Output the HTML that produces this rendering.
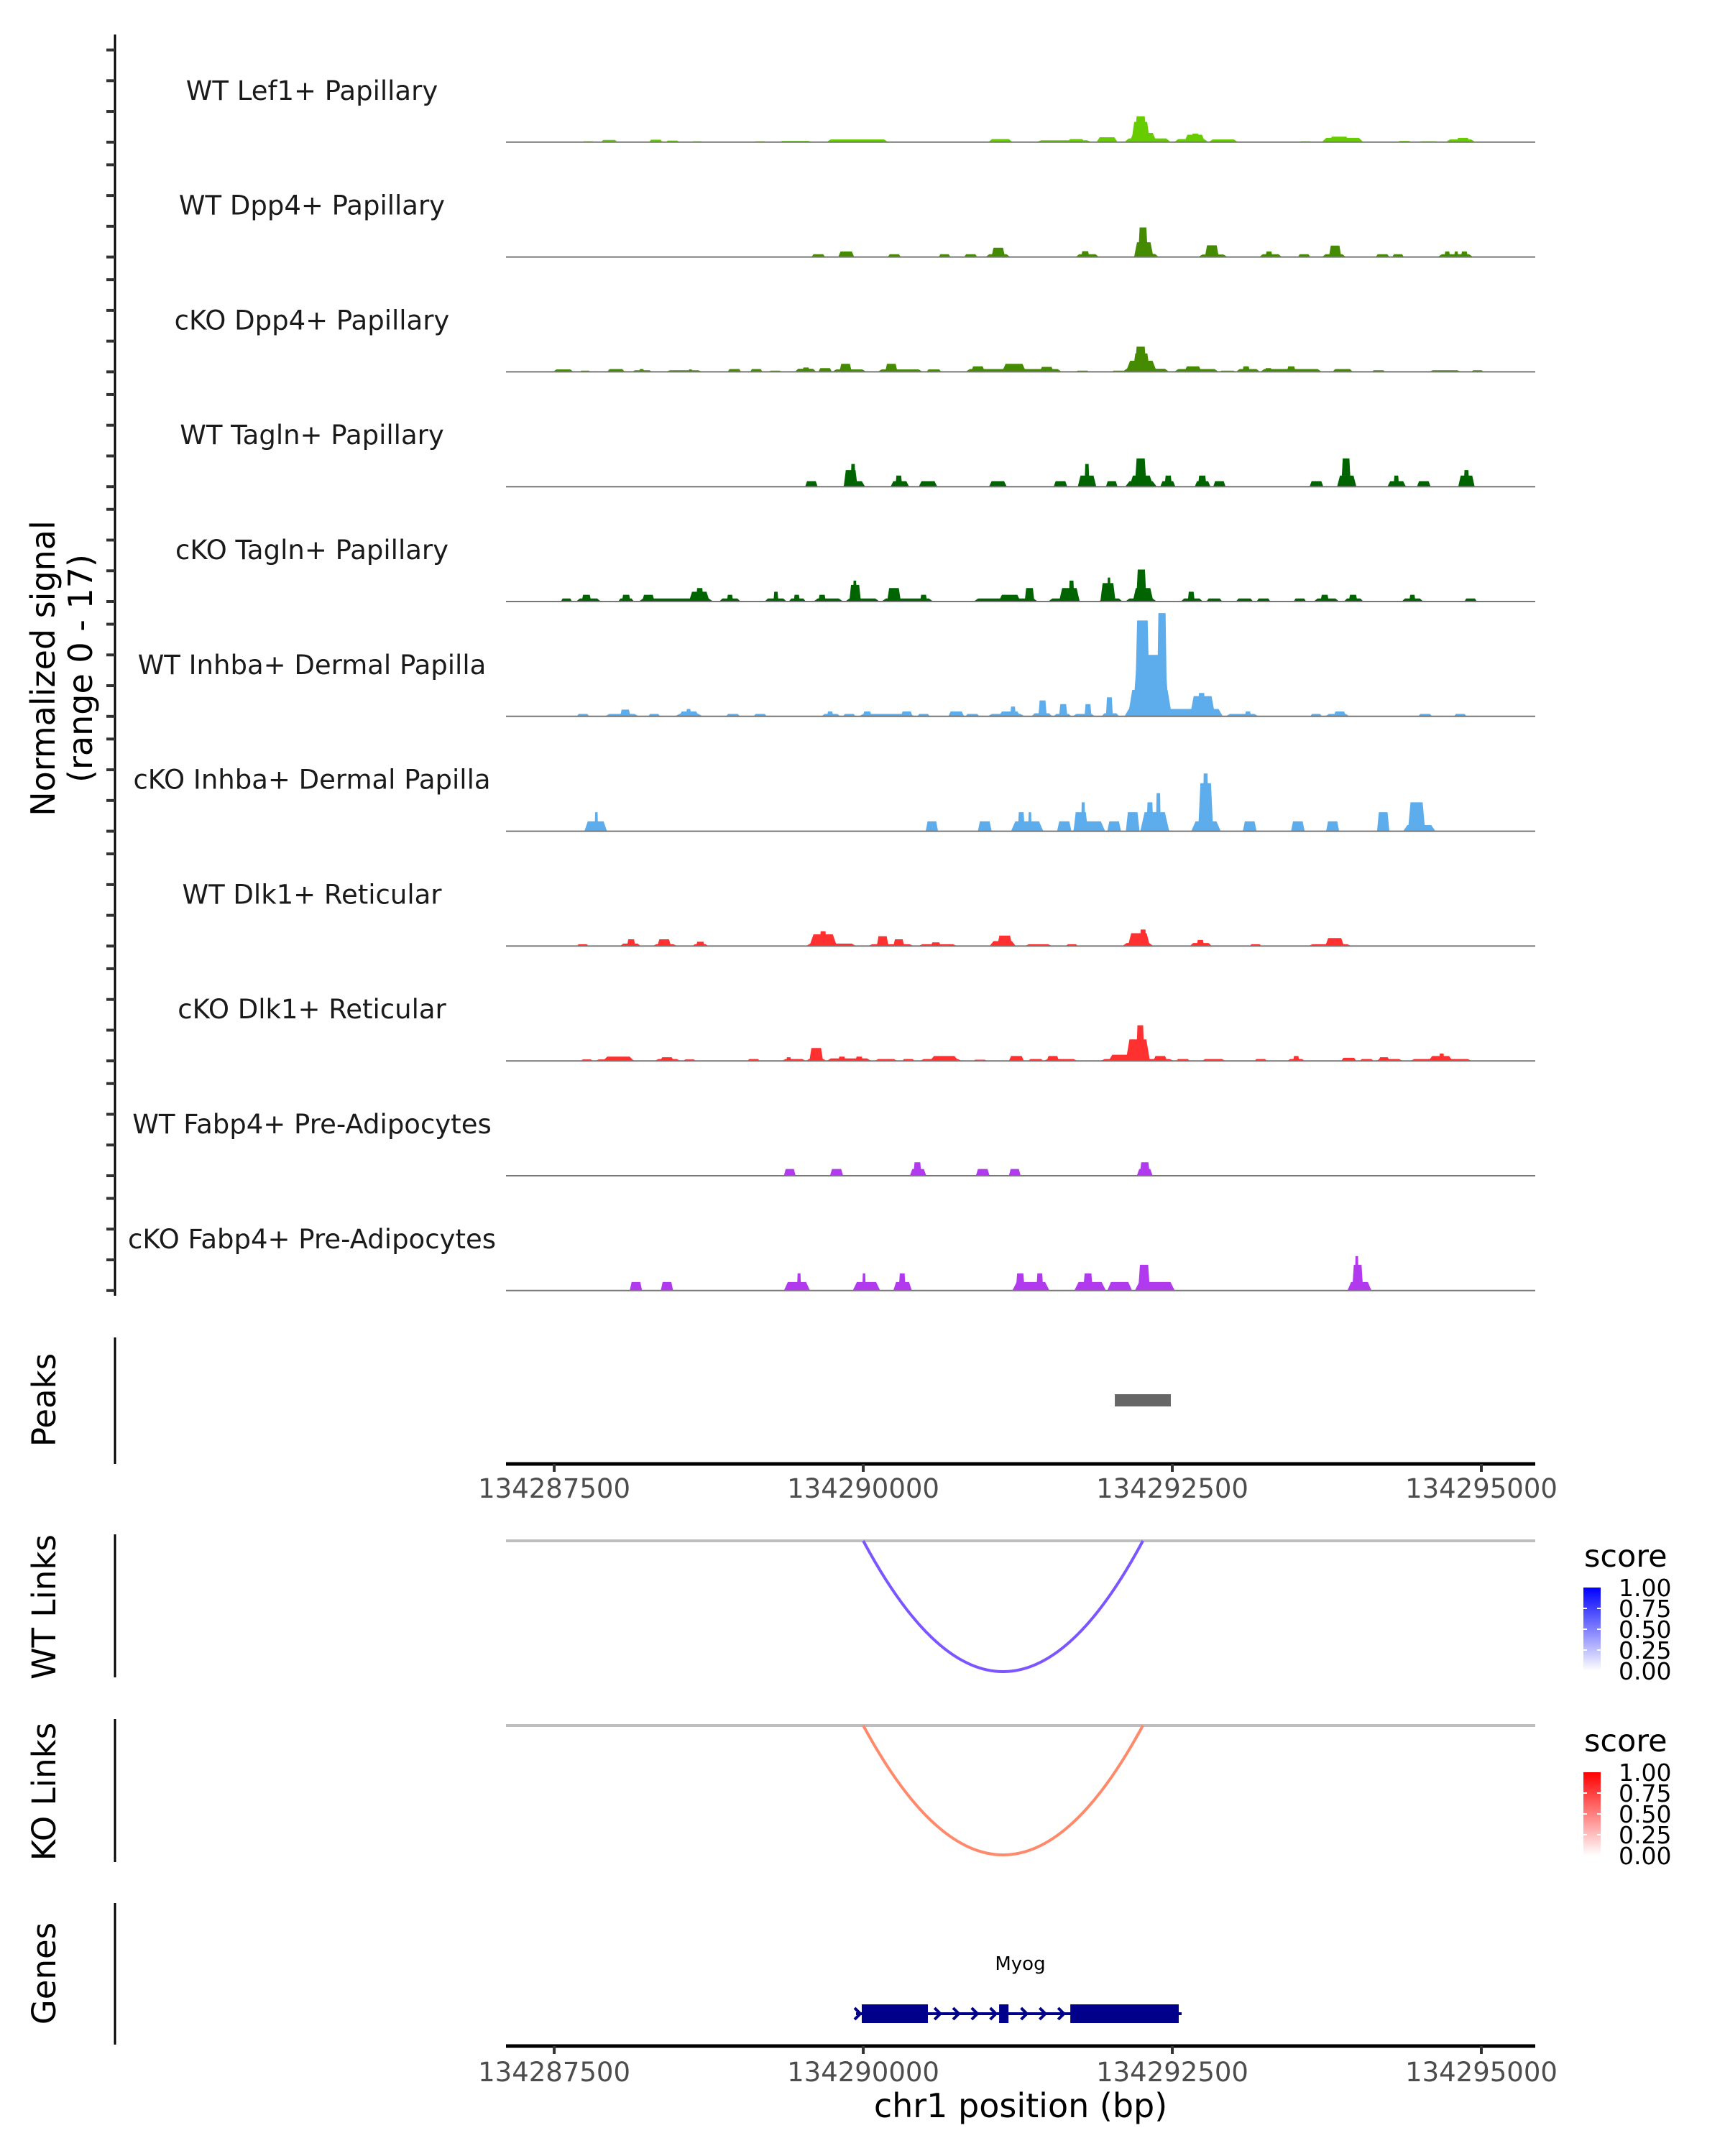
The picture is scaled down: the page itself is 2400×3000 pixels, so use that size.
<!DOCTYPE html>
<html><head><meta charset="utf-8">
<style>
html,body{margin:0;padding:0;background:#fff;}
svg{display:block;font-family:"DejaVu Sans","Liberation Sans",sans-serif;}
</style></head>
<body>
<svg id="chart" width="2400" height="3000" viewBox="0 0 2400 3000" xmlns="http://www.w3.org/2000/svg">
<defs>
<linearGradient id="gradBlue" x1="0" y1="1" x2="0" y2="0"><stop offset="0" stop-color="#ffffff"/><stop offset="1" stop-color="#0000ff"/></linearGradient>
<linearGradient id="gradRed" x1="0" y1="1" x2="0" y2="0"><stop offset="0" stop-color="#ffffff"/><stop offset="1" stop-color="#ff0000"/></linearGradient>
</defs>
<g id="tracks"></g>
<g id="lower"></g>
</svg>
<script>
// ---- data ----
const regionStart = 134287047; // bump offsets are bp relative to this
const trackNames = ["WT Lef1+ Papillary","WT Dpp4+ Papillary","cKO Dpp4+ Papillary","WT Tagln+ Papillary","cKO Tagln+ Papillary","WT Inhba+ Dermal Papilla","cKO Inhba+ Dermal Papilla","WT Dlk1+ Reticular","cKO Dlk1+ Reticular","WT Fabp4+ Pre-Adipocytes","cKO Fabp4+ Pre-Adipocytes"];
const trackColors = ["#66CC00","#458B00","#458B00","#006400","#006400","#5DADEC","#5DADEC","#FF3030","#FF3030","#B23AEE","#B23AEE"];
// bumps: [startOffset, endOffset, signal]
const lef1WT = [[680,780,0.15],[830,965,0.35],[1220,1330,0.4],[1355,1465,0.25],[1565,1655,0.15],[2070,2170,0.15],[2265,2545,0.2],[2655,3155,0.45],[3335,3425,0.1],[3965,4160,0.5],[4215,4325,0.1],[4355,4800,0.3],[4605,4745,0.5],[4840,5010,0.8],[5066,5439,0.6],[5105,5328,1.5],[5122,5272,3.3],[5150,5244,4.2],[5467,5745,0.5],[5550,5718,1.2],[5606,5673,1.4],[5745,5985,0.45],[6263,6357,0.1],[6480,6580,0.15],[6663,6998,0.7],[6719,6886,0.9],[7276,7387,0.2],[7443,7610,0.15],[7665,7905,0.45],[7749,7860,0.7]];
const dpp4WT = [[2534,2645,0.45],[2750,2880,0.9],[3151,3257,0.45],[3563,3658,0.45],[3769,3875,0.45],[3942,4142,0.45],[3990,4100,1.5],[4671,4860,0.45],[4715,4782,0.95],[5138,5344,0.5],[5144,5300,2.4],[5177,5255,4.8],[5662,5901,0.4],[5717,5829,1.9],[6157,6340,0.45],[6207,6263,0.9],[6469,6569,0.45],[6663,6858,0.45],[6720,6820,1.85],[7098,7209,0.45],[7232,7326,0.45],[7599,7888,0.45],[7654,7700,0.9],[7733,7766,0.9],[7788,7843,0.9]];
const dpp4KO = [[446,608,0.4],[658,747,0.2],[880,1025,0.45],[1081,1248,0.25],[1140,1180,0.45],[1354,1654,0.25],[1540,1570,0.4],[1855,1966,0.45],[2038,2138,0.45],[2188,2294,0.2],[2400,2573,0.5],[2460,2520,0.7],[2589,2700,0.6],[2700,2979,0.4],[2760,2860,1.3],[3068,3435,0.4],[3130,3230,1.3],[3463,3586,0.4],[3780,4560,0.45],[3825,3936,0.9],[4075,4270,1.3],[4381,4493,0.8],[4671,4782,0.2],[4960,5077,0.2],[5049,5428,0.5],[5077,5328,1.8],[5133,5272,3.0],[5150,5244,4.1],[5467,5829,0.45],[5550,5690,0.9],[5829,5968,0.2],[5968,6163,0.45],[6020,6080,0.9],[6163,6663,0.45],[6200,6260,0.6],[6380,6450,0.9],[6747,6914,0.45],[7065,7177,0.25],[7526,7793,0.25],[7871,7971,0.25]];
const taglnWT = [[2483,2584,0.9],[2790,2968,0.9],[2795,2907,2.7],[2851,2890,3.7],[3174,3324,0.9],[3213,3268,1.8],[3402,3552,0.9],[3970,4114,0.9],[4493,4604,0.9],[4688,4838,1.8],[4743,4782,3.7],[4916,5010,0.9],[5072,5328,0.9],[5105,5300,1.8],[5150,5244,4.6],[5355,5478,0.9],[5390,5450,1.8],[5634,5762,0.9],[5660,5730,1.8],[5784,5884,0.9],[6563,6675,0.9],[6786,6942,1.8],[6820,6897,4.6],[7193,7343,0.9],[7243,7287,1.8],[7432,7543,0.9],[7766,7899,1.8],[7810,7855,2.7]];
const taglnKO = [[507,597,0.5],[630,830,0.5],[675,752,1.1],[970,1098,0.5],[1000,1070,1.1],[1137,1738,0.5],[1164,1265,1.1],[1543,1710,1.6],[1600,1660,2.2],[1788,1960,0.5],[1850,1900,1.1],[2155,2333,0.5],[2227,2266,1.6],[2350,2489,0.5],[2390,2440,1.1],[2550,2790,0.5],[2590,2650,1.1],[2806,3085,0.5],[2840,2934,2.7],[2870,2900,3.4],[3101,3519,0.5],[3146,3257,2.2],[3413,3469,1.1],[3847,4365,0.5],[4048,4226,1.1],[4259,4337,2.2],[4448,4704,0.5],[4537,4704,2.2],[4615,4660,3.4],[4860,5050,0.5],[4871,4994,3.0],[4927,4954,3.9],[5072,5328,0.5],[5133,5300,2.2],[5161,5244,5.2],[5522,5700,0.5],[5578,5634,1.6],[5728,5857,0.5],[5968,6107,0.5],[6135,6246,0.5],[6435,6535,0.5],[6597,6803,0.5],[6652,6719,1.1],[6842,6998,0.5],[6880,6950,1.1],[7309,7482,0.5],[7370,7420,1.1],[7816,7916,0.5]];
const inhbaWT = [[636,736,0.4],[864,1137,0.4],[986,1070,1.1],[1214,1309,0.4],[1431,1654,0.4],[1460,1626,0.8],[1520,1560,1.2],[1843,1955,0.4],[2066,2172,0.4],[2617,2767,0.4],[2660,2710,0.8],[2790,2890,0.4],[2918,3368,0.4],[2950,3020,0.8],[3257,3352,0.8],[3391,3491,0.4],[3641,3769,0.8],[3780,3892,0.4],[3959,4259,0.4],[4048,4226,0.8],[4142,4187,1.6],[4314,4482,0.5],[4370,4437,2.6],[4493,4637,0.4],[4537,4604,2.0],[4649,4827,0.4],[4743,4799,2.0],[4882,5022,0.5],[4916,4972,3.1],[5066,5862,1.2],[5094,5450,4.3],[5133,5428,10],[5150,5272,15.6],[5328,5411,16.8],[5595,5801,3.3],[5660,5720,3.8],[5884,6151,0.4],[6040,6090,0.8],[6569,6663,0.4],[6691,6886,0.4],[6758,6858,0.8],[7443,7554,0.4],[7732,7832,0.4]];
const inhbaKO = [[697,880,1.6],[780,808,3.1],[3458,3558,1.6],[3880,3992,1.6],[4148,4410,1.6],[4203,4259,3.1],[4287,4315,3.1],[4521,4637,1.6],[4649,4910,1.6],[4654,4771,3.1],[4715,4749,4.7],[4927,5038,1.6],[5077,5188,3.1],[5194,5428,3.1],[5244,5300,4.7],[5320,5360,6.2],[5606,5845,1.6],[5662,5784,7.8],[5700,5745,9.4],[6023,6135,1.6],[6413,6524,1.6],[6697,6803,1.6],[7109,7209,3.1],[7320,7582,1.0],[7359,7499,4.7]];
const dlk1WT = [[636,730,0.3],[986,1153,0.4],[1042,1109,1.1],[1248,1448,0.3],[1287,1398,1.1],[1570,1699,0.3],[1600,1670,0.7],[2489,2895,0.4],[2517,2740,1.9],[2600,2656,2.4],[2990,3363,0.3],[3062,3157,1.6],[3196,3285,1.1],[3396,3714,0.3],[3500,3580,0.6],[3975,4187,0.8],[4036,4159,1.7],[4259,4482,0.3],[4593,4688,0.3],[5049,5300,0.5],[5094,5272,2.1],[5189,5244,2.7],[5595,5773,0.5],[5650,5710,1.0],[6079,6174,0.3],[6552,6903,0.3],[6691,6842,1.3]];
const dlk1KO = [[669,764,0.25],[780,1114,0.25],[847,1098,0.7],[1264,1476,0.3],[1310,1420,0.6],[1498,1598,0.25],[2016,2116,0.3],[2294,2489,0.3],[2330,2370,0.6],[2489,2656,0.3],[2517,2628,2.1],[2656,3018,0.4],[2750,2810,0.7],[2890,2950,0.7],[3046,3229,0.3],[3268,3368,0.3],[3408,3753,0.3],[3491,3725,0.8],[3842,3953,0.2],[4131,4253,0.8],[4287,4410,0.3],[4410,4688,0.3],[4437,4537,0.8],[4871,5467,0.3],[4938,5133,1.0],[5077,5272,3.5],[5161,5227,5.8],[5300,5411,0.8],[5483,5595,0.3],[5690,5884,0.3],[6118,6218,0.3],[6385,6524,0.3],[6430,6480,0.8],[6819,6942,0.5],[6969,7081,0.3],[7098,7320,0.3],[7120,7210,0.6],[7376,7877,0.3],[7526,7721,0.8],[7610,7654,1.2]];
const fabp4WT = [[2311,2406,1.1],[2684,2790,1.1],[3330,3463,1.1],[3358,3424,2.2],[3864,3975,1.1],[4131,4226,1.1],[5166,5294,1.1],[5189,5272,2.2]];
const fabp4KO = [[1064,1164,1.4],[1315,1415,1.4],[2311,2522,1.4],[2417,2450,2.8],[2868,3090,1.4],[2945,2973,2.8],[3196,3346,1.4],[3240,3296,2.8],[4159,4459,1.4],[4187,4259,2.8],[4353,4409,2.8],[4660,4916,1.4],[4732,4810,2.8],[4927,5127,1.4],[5150,5473,1.4],[5177,5272,4.2],[6870,7064,1.4],[6908,6997,4.2],[6930,6960,5.6]];
const trackData = [lef1WT,dpp4WT,dpp4KO,taglnWT,taglnKO,inhbaWT,inhbaKO,dlk1WT,dlk1KO,fabp4WT,fabp4KO];
const yTicks = [0,5,10,15];
const xTicks = [134287500,134290000,134292500,134295000];
const peaksBp = [[134292035,134292488]];
const linkWT = [134290000,134292262];
const linkKO = [134290000,134292262];
const legendTicks = ["1.00","0.75","0.50","0.25","0.00"];
const geneName = "Myog";
const geneSpan = [134289988,134292552];
const geneExons = [[134289988,134290523],[134291099,134291175],[134291675,134292552]];
const chevronBp = [134290600,134290750,134290900,134291050,134291300,134291450,134291600];

// ---- scales ----
const NS="http://www.w3.org/2000/svg";
const X0=704, X1=2136, BP0=134287110, BP1=134295436;
const xs = bp => X0 + (bp-BP0)/(BP1-BP0)*(X1-X0);
const UNIT=8.55, BASE0=197.8, STEP=159.8;
function mk(tag, attrs, parent){const e=document.createElementNS(NS,tag);for(const k in attrs)e.setAttribute(k,attrs[k]);parent.appendChild(e);return e;}
const tg=document.getElementById('tracks');
const lg=document.getElementById('lower');

let ax=mk('line',{x1:160,y1:48,x2:160,y2:1803,stroke:'#000','stroke-width':3},tg);


let yt=mk('text',{transform:'translate(76,930) rotate(-90)','text-anchor':'middle','font-size':46,fill:'#000'},tg);
yt.textContent='Normalized signal';


let yt2=mk('text',{transform:'translate(128,930) rotate(-90)','text-anchor':'middle','font-size':46,fill:'#000'},tg);
yt2.textContent='(range 0 - 17)';



trackNames.forEach((name,i)=>{
  const base=BASE0+i*STEP;
  const g=mk('g',{},tg);
  
  
  yTicks.forEach(v=>{
    const t=mk('line',{x1:148,x2:160,y1:base-v*UNIT,y2:base-v*UNIT,stroke:'#333','stroke-width':4},g);
    
    
  });
  trackData[i].forEach(b=>{
    const s=xs(regionStart+b[0]), e=xs(regionStart+b[1]), h=b[2]*UNIT, w=e-s, d=Math.min(w*0.15,6);
    const p=mk('polygon',{points:`${s},${base} ${s+d},${base-h} ${e-d},${base-h} ${e},${base}`,fill:trackColors[i]},g);
    
    
  });
  const bl=mk('line',{x1:X0,x2:X1,y1:base,y2:base,stroke:'#777','stroke-width':2},g);
  
  
  const lab=mk('text',{x:434,y:base-59,'text-anchor':'middle','font-size':37,fill:'#1a1a1a'},g);
  lab.textContent=name;
  
  
});

function panelAxis(y1,y2,title,cy){
  const l=mk('line',{x1:160,x2:160,y1:y1,y2:y2,stroke:'#000','stroke-width':3},lg);
  
  
  const t=mk('text',{transform:`translate(77,${cy}) rotate(-90)`,'text-anchor':'middle','font-size':45,fill:'#000'},lg);
  t.textContent=title;
  
  
}
function xAxis(y,labY,nm){
  const l=mk('line',{x1:X0,x2:X1,y1:y,y2:y,stroke:'#000','stroke-width':5},lg);
  
  
  xTicks.forEach(v=>{
    const t=mk('line',{x1:xs(v),x2:xs(v),y1:y,y2:y+11,stroke:'#333','stroke-width':4},lg);
    
    
    const tx=mk('text',{x:xs(v),y:labY,'text-anchor':'middle','font-size':37,fill:'#4d4d4d'},lg);
    tx.textContent=String(v);
    
    
  });
}

panelAxis(1861,2037,'Peaks',1948);
peaksBp.forEach(p=>{
  const r=mk('rect',{x:xs(p[0]),y:1940,width:xs(p[1])-xs(p[0]),height:17,fill:'#666'},lg);
  
  
});
xAxis(2037,2084,'peaks-x-axis');

function links(y0,yb,span,col,grad,nm,legY){
  panelAxis(y0-9,y0+190,nm==='wt'?'WT Links':'KO Links',y0+92);
  const gl=mk('line',{x1:X0,x2:X1,y1:y0,y2:y0,stroke:'#bebebe','stroke-width':4},lg);
  
  
  const a=xs(span[0]), b=xs(span[1]), yc=2*yb-y0;
  const p=mk('path',{d:`M${a},${y0} Q${(a+b)/2},${yc} ${b},${y0}`,fill:'none',stroke:col,'stroke-width':4},lg);
  
  
  const t=mk('text',{x:2204,y:legY,'font-size':43,fill:'#000'},lg);
  t.textContent='score';
  
  
  const by=legY+29;
  const r=mk('rect',{x:2203,y:by,width:24,height:116,fill:`url(#${grad})`},lg);
  
  
  legendTicks.forEach((s,k)=>{
    const yy=by+k*29;
    if(k>0&&k<4){const tk=mk('line',{x1:2203,x2:2208,y1:yy,y2:yy,stroke:'#fff','stroke-width':2},lg);
      const tk2=mk('line',{x1:2222,x2:2227,y1:yy,y2:yy,stroke:'#fff','stroke-width':2},lg);}
    const tx=mk('text',{x:2252,y:yy+12,'font-size':33,fill:'#000'},lg);
    tx.textContent=s;
    
    
  });
}
links(2144,2326,linkWT,'#7b55ff','gradBlue','wt',2180);
links(2401,2581,linkKO,'#ff8a6b','gradRed','ko',2437);

panelAxis(2648,2845,'Genes',2746);
const gn=mk('text',{x:xs((geneSpan[0]+geneSpan[1])/2),y:2741,'text-anchor':'middle','font-size':26,fill:'#000'},lg);
gn.textContent=geneName;


const gb=mk('line',{x1:xs(geneSpan[0])-8,x2:xs(geneSpan[1])+4,y1:2802,y2:2802,stroke:'#00008b','stroke-width':4},lg);


geneExons.forEach(e=>{
  const r=mk('rect',{x:xs(e[0]),y:2789,width:xs(e[1])-xs(e[0]),height:26,fill:'#00008b'},lg);
  
  
});
[geneSpan[0]].concat(chevronBp).forEach((c,k)=>{
  const x=k===0?xs(c)-6:xs(c);
  const p=mk('path',{d:`M${x-4},${2794} L${x+4},${2802} L${x-4},${2810}`,fill:'none',stroke:'#00008b','stroke-width':4},lg);
  
  
});
xAxis(2847,2896,'genes-x-axis');
const xt=mk('text',{x:1420,y:2946,'text-anchor':'middle','font-size':46,fill:'#000'},lg);
xt.textContent='chr1 position (bp)';


</script>
</body></html>
